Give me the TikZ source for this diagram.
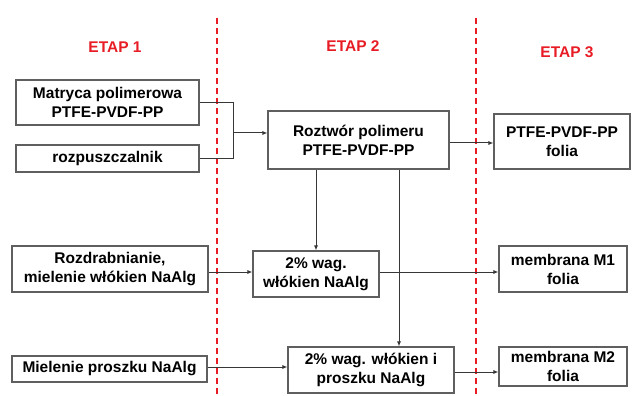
\documentclass[tikz,border=0pt]{standalone}
\usepackage{fontspec}
\setmainfont{Liberation Sans}
\usetikzlibrary{arrows.meta}
\definecolor{etapred}{RGB}{232,28,36}
\definecolor{boxgray}{RGB}{95,95,95}
\definecolor{linegray}{RGB}{55,55,55}
\begin{document}
\begin{tikzpicture}[x=1pt,y=-1pt,
  box/.style={draw=boxgray,line width=1.1pt,align=center,inner sep=0pt,
    font=\fontsize{15.5}{19}\selectfont\bfseries},
  etap/.style={text=etapred,font=\fontsize{15.5}{19}\selectfont\bfseries},
  divider/.style={draw=etapred,line width=1.8pt,dash pattern=on 6pt off 4pt},
  flow/.style={draw=linegray,line width=1pt,-{Latex[length=5pt,width=4pt]}},
  joint/.style={draw=linegray,line width=1pt}]
\useasboundingbox (0,0) rectangle (633,396);

% etapy
\node[etap] (e1) at (115,47) {ETAP 1};
\node[etap] (e2) at (353,46) {ETAP 2};
\node[etap] (e3) at (567,52) {ETAP 3};
\coordinate (d1top) at (217,18);
\coordinate (d1bot) at (217,396);
\coordinate (d2top) at (476,18);
\coordinate (d2bot) at (476,396);
\path[divider] (d1top) -- (d1bot);
\path[divider] (d2top) -- (d2bot);

% etap 1
\node[box,minimum width=183pt,minimum height=45pt] (mat) at (107.5,102.5) {Matryca polimerowa\\PTFE-PVDF-PP};
\node[box,minimum width=183pt,minimum height=27pt] (solv) at (107.5,158.5) {rozpuszczalnik};
\node[box,minimum width=196pt,minimum height=46pt] (grind) at (110,269) {Rozdrabnianie,\\mielenie włókien NaAlg};
\node[box,minimum width=195pt,minimum height=26pt] (mill) at (109.5,369) {Mielenie proszku NaAlg};

% etap 2
\node[box,minimum width=181pt,minimum height=58pt] (sol) at (358.5,140) {Roztwór polimeru\\PTFE-PVDF-PP};
\node[box,minimum width=126pt,minimum height=46pt] (mix1) at (316,274) {2\% wag.\\włókien NaAlg};
\node[box,minimum width=166pt,minimum height=46pt] (mix2) at (371,370) {2\% wag. włókien i\\proszku NaAlg};

% etap 3
\node[box,minimum width=136pt,minimum height=55pt] (film) at (562,141.5) {PTFE-PVDF-PP\\folia};
\node[box,minimum width=128pt,minimum height=46pt] (m1) at (563,269) {membrana M1\\folia};
\node[box,minimum width=128pt,minimum height=39pt] (m2) at (563,366.5) {membrana M2\\folia};

% polaczenia
\coordinate (jn) at (233,133);
\path[joint] (mat.east) -| (jn);
\path[joint] (solv.east) -| (jn);
\path[flow] (jn) -- (jn -| sol.west);
\path[flow] ([yshift=-3pt]sol.east) -- ([yshift=-3pt]sol.east -| film.west);
\path[flow] (mix1.north |- sol.south) -- (mix1.north);
\coordinate (tap) at ([xshift=40.5pt]sol.south);
\path[flow] (tap) -- (tap |- mix2.north);
\path[flow] ([yshift=-3pt]grind.east) -- ([yshift=-3pt]grind.east -| mix1.west);
\path[flow] ([yshift=2pt]mix1.east) -- ([yshift=2pt]mix1.east -| m1.west);
\path[flow] ([yshift=2pt]mill.east) -- ([yshift=2pt]mill.east -| mix2.west);
\path[flow] ([yshift=-2pt]mix2.east) -- ([yshift=-2pt]mix2.east -| m2.west);
\end{tikzpicture}
\end{document}
